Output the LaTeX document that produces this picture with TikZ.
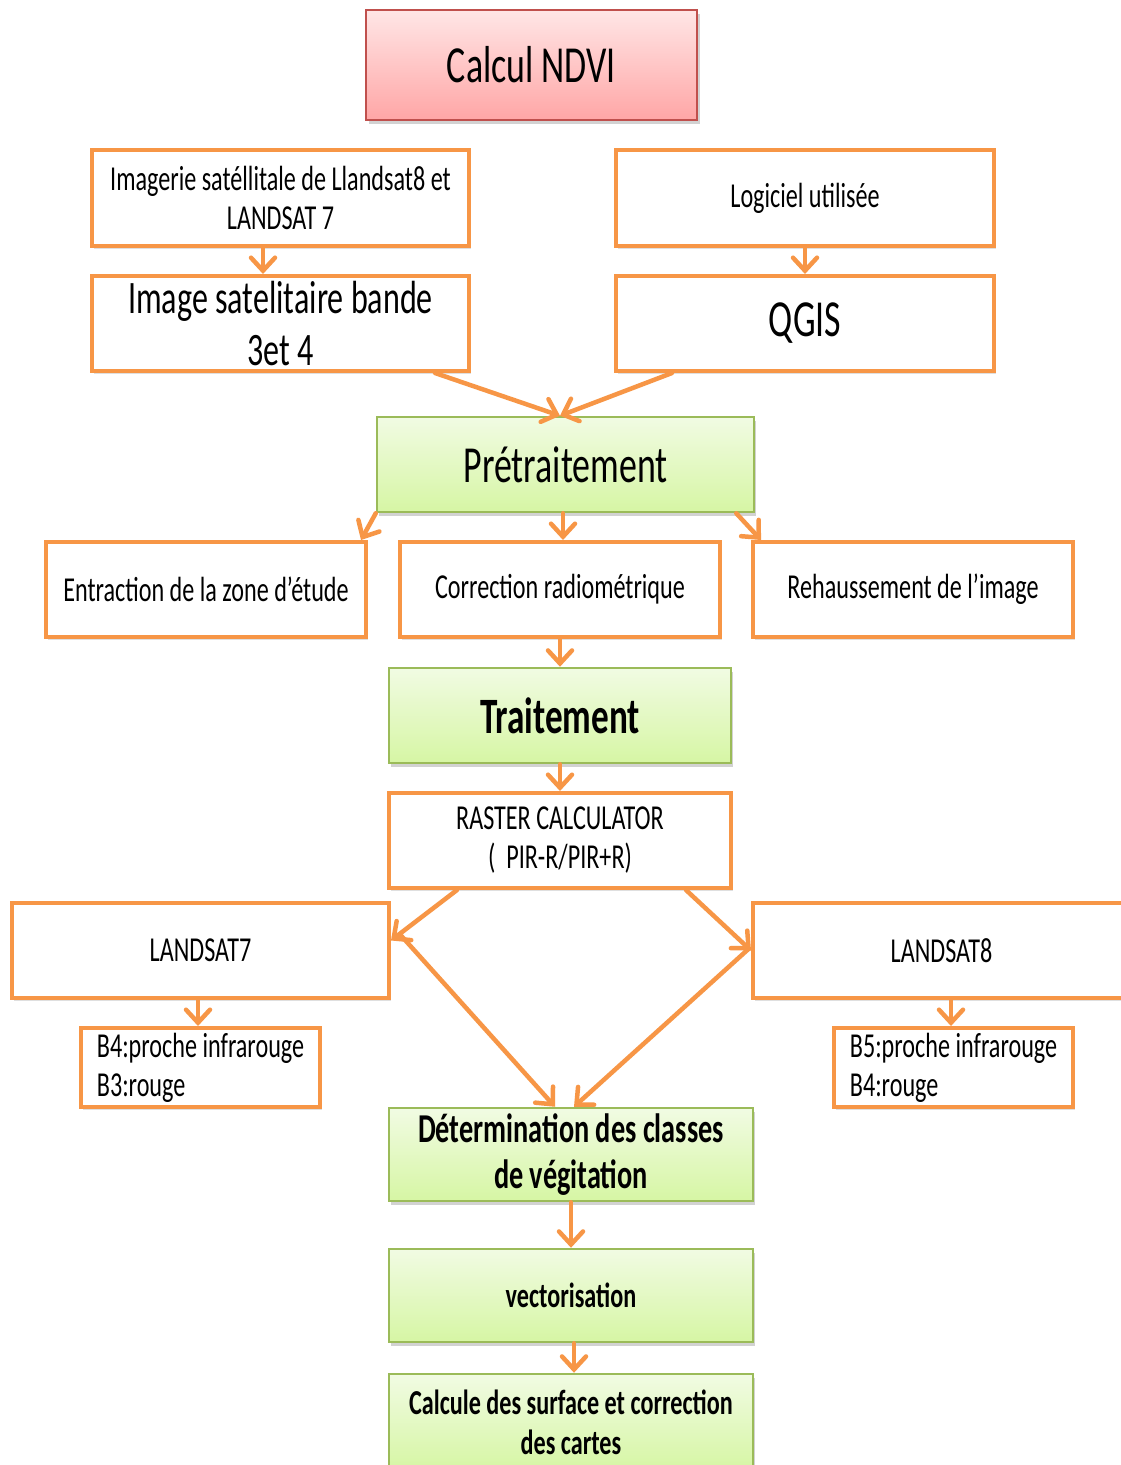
\documentclass[tikz,border=0pt]{standalone}
\usepackage{fontspec}
\setmainfont{Carlito}[FakeStretch=0.69]
\usetikzlibrary{arrows.meta,shadows}
\definecolor{org}{HTML}{F79646}
\definecolor{grb}{HTML}{9BBB59}
\definecolor{grt}{HTML}{F1FBE3}
\definecolor{grbot}{HTML}{D6F6A4}
\definecolor{pkb}{HTML}{C0504D}
\definecolor{pkt}{HTML}{FFE6E6}
\definecolor{pkbot}{HTML}{FFA6A6}
\tikzset{
  base/.style={rectangle, align=center, inner sep=2pt, text=black},
  obox/.style={base, draw=org, line width=4pt, fill=white,
     drop shadow={opacity=0.25, shadow xshift=2pt, shadow yshift=-3pt}},
  gbox/.style={base, draw=grb, line width=2.5pt, top color=grt, bottom color=grbot,
     drop shadow={opacity=0.35, shadow xshift=2pt, shadow yshift=-4pt}},
  pbox/.style={base, draw=pkb, line width=2.5pt, top color=pkt, bottom color=pkbot,
     drop shadow={opacity=0.35, shadow xshift=3pt, shadow yshift=-4pt}},
  arr/.style={draw=org, line width=4.5pt, line cap=round,
     -{Straight Barb[length=13pt,width=24pt,line cap=round]}},
  sm/.style={font=\fontsize{35}{39}\selectfont},
}
\begin{document}
\begin{tikzpicture}[x=1pt,y=-1pt]
\useasboundingbox (0,0) rectangle (1121,1465);
\fill[white] (0,0) rectangle (1121,1465);

\node[pbox, minimum width=331pt, minimum height=110pt, font=\fontsize{52}{56}\selectfont] (ndvi) at (531.5,65) {Calcul NDVI};

\node[obox, sm, minimum width=377pt, minimum height=96pt] (img) at (280.5,198) {Imagerie satéllitale de Llandsat8 et\\LANDSAT 7};
\node[obox, sm, minimum width=378pt, minimum height=96pt] (log) at (805,198) {\raisebox{-3pt}{Logiciel utilisée}};
\node[obox, minimum width=377pt, minimum height=95pt, font=\fontsize{46.5}{52}\selectfont] (imgb) at (280.5,323.5) {Image satelitaire bande\\3et 4};
\node[obox, minimum width=378pt, minimum height=95pt, font=\fontsize{52}{56}\selectfont] (qgis) at (805,323.5) {\raisebox{-3pt}{QGIS}};

\node[gbox, minimum width=377pt, minimum height=95pt, font=\fontsize{52}{56}\selectfont] (pre) at (565.5,464.5) {Prétraitement};

\node[obox, sm, minimum width=320pt, minimum height=95pt] (ent) at (206,589.5) {\raisebox{-3pt}{Entraction de la zone d’étude}};
\node[obox, sm, minimum width=320pt, minimum height=95pt] (cor) at (560,589.5) {\raisebox{-3pt}{Correction radiométrique}};
\node[obox, sm, minimum width=320pt, minimum height=95pt] (reh) at (913,589.5) {\raisebox{-3pt}{Rehaussement de l’image}};

\node[gbox, minimum width=342pt, minimum height=95pt, font=\fontsize{51}{55}\selectfont\bfseries] (trt) at (560,715.5) {Traitement};
\node[obox, sm, minimum width=342pt, minimum height=95pt] (ras) at (560,840.5) {RASTER CALCULATOR\\(\ \ PIR-R/PIR+R)};

\node[obox, sm, minimum width=377pt, minimum height=95pt] (l7) at (200.5,950.5) {LANDSAT7};
\node[obox, sm, minimum width=377pt, minimum height=95pt] (l8) at (941.5,950.5) {LANDSAT8};

\node[obox, sm, align=left, minimum width=239pt, minimum height=79pt] (b4) at (200.5,1067.5) {B4:proche infrarouge\\B3:rouge};
\node[obox, sm, align=left, minimum width=239pt, minimum height=79pt] (b5) at (953.5,1067.5) {B5:proche infrarouge\\B4:rouge};

\node[gbox, minimum width=364pt, minimum height=93pt, font=\fontsize{41}{46}\selectfont\bfseries] (det) at (571,1154.5) {Détermination des classes\\de végitation};
\node[gbox, minimum width=364pt, minimum height=93pt, font=\fontsize{35}{39}\selectfont\bfseries] (vec) at (571,1295.5) {vectorisation};
\node[gbox, minimum width=364pt, minimum height=96pt, font=\fontsize{35}{40}\selectfont\bfseries] (cal) at (571,1422) {Calcule des surface et correction\\des cartes};

% connectors
\draw[arr] ([xshift=-17.5pt]img.south) -- ([xshift=-17.5pt]imgb.north);
\draw[arr] (log.south) -- (qgis.north);
\draw[arr] ([xshift=154.5pt]imgb.south) -- ([xshift=-5.5pt]pre.north);
\draw[arr] ([xshift=-133pt]qgis.south) -- ([xshift=-5.5pt]pre.north);
\draw[arr] (pre.south west) -- ([xshift=-7pt]ent.north east);
\draw[arr] ([xshift=-2.5pt]pre.south) -- ([xshift=3pt]cor.north);
\draw[arr] ([xshift=-19pt]pre.south east) -- ([xshift=10pt]reh.north west);
\draw[arr] (cor.south) -- (trt.north);
\draw[arr] (trt.south) -- (ras.north);
\draw[arr] ([xshift=-103pt]ras.south) -- ([yshift=10pt]l7.east);
\draw[arr] ([xshift=126pt]ras.south) -- (l8.west);
\draw[arr] ([xshift=10pt,yshift=15pt]l7.east) -- ([xshift=-16pt]det.north);
\draw[arr] ([xshift=-2pt,yshift=2pt]l8.west) -- ([xshift=3pt]det.north);
\draw[arr] ([xshift=-2.5pt]l7.south) -- ([xshift=-2.5pt]b4.north);
\draw[arr] ([xshift=9.5pt]l8.south) -- ([xshift=-2.5pt]b5.north);
\draw[arr] (det.south) -- (vec.north);
\draw[arr] ([xshift=3pt]vec.south) -- ([xshift=3pt]cal.north);
\end{tikzpicture}
\end{document}
